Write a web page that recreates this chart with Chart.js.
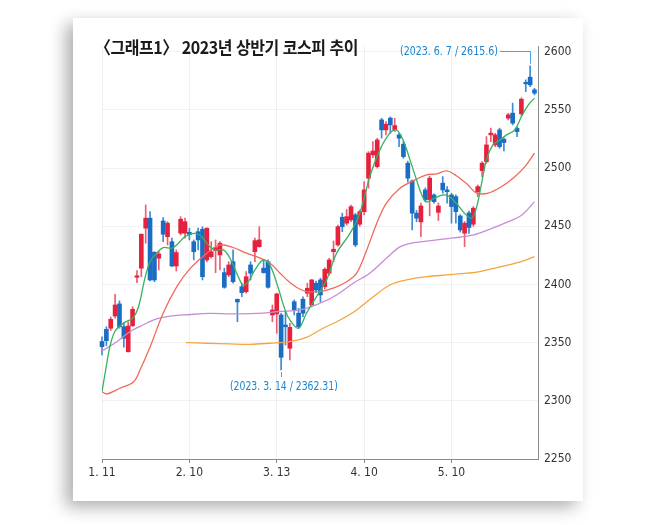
<!DOCTYPE html>
<html lang="ko">
<head>
<meta charset="UTF-8">
<title>2023년 상반기 코스피 추이</title>
<script src="https://cdn.jsdelivr.net/npm/chart.js"></script>
<style>
    html, body {
        margin: 0;
        padding: 0;
        background: #fff;
        width: 650px;
        height: 525px;
        overflow: hidden;
    }
    .card {
        position: absolute;
        left: 73px;
        top: 18px;
        width: 510px;
        height: 483px;
        background: #fff;
        box-shadow: -7px 6px 16px rgba(0, 0, 0, 0.32);
    }
    #wrap {
        position: absolute;
        left: 0;
        top: 0;
        width: 650px;
        height: 525px;
    }
    .title {
        position: absolute;
        left: 95px;
        top: 36px;
        font-family: "Noto Sans CJK KR", "Noto Sans", sans-serif;
        font-weight: 700;
        font-size: 17.5px;
        line-height: 22px;
        color: #1a1a1a;
        white-space: nowrap;
        transform-origin: left center;
        letter-spacing: -0.5px;
    }
    .note {
        position: absolute;
        font-family: "Liberation Sans Narrow", "DejaVu Sans Condensed", Roboto, sans-serif;
        font-size: 13px;
        line-height: 14px;
        color: #1784d3;
        white-space: nowrap;
    }
    #noteTop {
        left: 400px;
        top: 44px;
        transform-origin: left center;
    }
    #noteLow {
        left: 284px;
        top: 379px;
        transform-origin: center center;
    }
</style>
</head>
<body>
<div class="card"></div>
<div id="wrap"><canvas id="kospiChart" width="650" height="525"></canvas></div>
<div class="title" id="title">〈그래프1〉 2023년 상반기 코스피 추이</div>
<div class="note" id="noteTop">(2023. 6. 7 / 2615.6)</div>
<div class="note" id="noteLow">(2023. 3. 14 / 2362.31)</div>

<script>
    // daily candles, one per trading day starting 1. 11 (index 0)
    const open = [2351, 2361.5, 2362.4, 2372.9, 2383.3, 2363.7, 2342.2, 2364.6, 2406.2, 2414,
        2448.4, 2457, 2427.7, 2422.6, 2454.6, 2441.1, 2436.8, 2415.9, 2444.1, 2444.1,
        2444.9, 2436.8, 2445.4, 2447.5, 2421.1, 2423.9, 2429.1, 2425.4, 2410.2, 2408.2,
        2419.6, 2387.3, 2398.1, 2393.8, 2416.8, 2428.2, 2432.5, 2414, 2419.6, 2373.8,
        2374.7, 2373.8, 2365.2, 2345.2, 2385.2, 2375.3, 2387.3, 2392.5, 2382.4, 2401.1,
        2403.9, 2398.1, 2409.7, 2428.2, 2434, 2457.8, 2452.7, 2455.5, 2459.8, 2451.8,
        2462.6, 2491.4, 2511.4, 2501.3, 2541.5, 2532.9, 2543, 2532.9, 2528.6, 2520.6,
        2504.3, 2489, 2461.3, 2453.8, 2481.3, 2473, 2477, 2462, 2487.1, 2481.3,
        2477, 2475.5, 2458.9, 2444.1, 2461.5, 2451.8, 2479.8, 2497.9, 2505.6, 2528.6,
        2520, 2532.9, 2524.9, 2543, 2547.3, 2534.4, 2546.7, 2573.6, 2578.2, 2567.3];
    const high = [2355, 2363.7, 2372, 2391.6, 2385.9, 2366.9, 2367.9, 2380.9, 2411.9, 2443.5,
        2468.4, 2462.6, 2428.2, 2428.2, 2457.5, 2454, 2439.8, 2429.7, 2458.3, 2457,
        2448.4, 2438.3, 2448.4, 2449.7, 2448.8, 2436.8, 2438.3, 2436.8, 2414, 2419.6,
        2429.7, 2387.5, 2401.1, 2411, 2419.6, 2439.8, 2449.7, 2421.1, 2421.1, 2382.4,
        2392.5, 2375.3, 2377.2, 2366.7, 2386.7, 2379.6, 2389.5, 2401.1, 2404.5, 2403,
        2405.4, 2414.4, 2422.5, 2437.4, 2451, 2461.3, 2464.5, 2468.3, 2461.2, 2464,
        2488.4, 2514.2, 2522.8, 2525.7, 2542.9, 2540, 2544.1, 2542.9, 2530, 2522.8,
        2506, 2489.9, 2463.6, 2470, 2483, 2493, 2478, 2470, 2492.7, 2484.2,
        2478.5, 2477, 2460, 2454.1, 2463, 2467, 2485.6, 2505.7, 2527.1, 2534.4,
        2530, 2534.4, 2526, 2547.2, 2555.9, 2535.7, 2560.5, 2575.9, 2588, 2568.7];
    const low = [2339.5, 2347.5, 2360.5, 2371, 2362.4, 2346.1, 2341.9, 2363.8, 2401.6, 2406.7,
        2435.5, 2403, 2402.4, 2412.5, 2436.8, 2434, 2415.3, 2411.6, 2442.6, 2439.8,
        2438.3, 2421.1, 2429.7, 2403.9, 2419.4, 2422.6, 2410.2, 2412.5, 2396.8, 2406.7,
        2401.1, 2368, 2389.5, 2392.5, 2403.9, 2419.6, 2432, 2409.7, 2396.8, 2368,
        2358.1, 2326.5, 2348, 2335.1, 2373.8, 2362.4, 2372.3, 2389.5, 2380.9, 2393,
        2385.2, 2396, 2408, 2419.6, 2433, 2445.4, 2451, 2454, 2432.5, 2450,
        2459.8, 2482.8, 2509, 2500, 2525.8, 2528.6, 2530, 2531.5, 2518.5, 2508.5,
        2488, 2446.9, 2454, 2441, 2471, 2459, 2470, 2455, 2478.5, 2469.9,
        2452.7, 2452.7, 2445, 2432.5, 2444, 2450, 2475.5, 2492.7, 2504.3, 2522.8,
        2518.5, 2517, 2514.8, 2541.5, 2537.2, 2527.1, 2545, 2565.8, 2570, 2563];
    const close = [2346.5, 2351.7, 2370.1, 2382.4, 2363.7, 2353.8, 2364.3, 2378.7, 2407.3, 2443.2,
        2457, 2403.9, 2403.9, 2426.3, 2443.2, 2452.7, 2415.9, 2427.5, 2456.1, 2454,
        2443, 2428.2, 2438.3, 2406.7, 2448.4, 2428.2, 2431.7, 2435.5, 2397.6, 2416.8,
        2402.4, 2385, 2393, 2406.7, 2409.7, 2437.7, 2438.3, 2410.2, 2397.6, 2378.1,
        2391.9, 2337.4, 2363.7, 2363.2, 2378.1, 2363.7, 2375.3, 2396.8, 2403.9, 2395.3,
        2391, 2413.1, 2421.1, 2430.3, 2449.7, 2449.7, 2458.3, 2466.9, 2434, 2462.6,
        2481.3, 2512.9, 2514.8, 2524.3, 2532.9, 2537.8, 2537.2, 2536.6, 2525.8, 2509.9,
        2491.4, 2461.3, 2457, 2467.5, 2472.7, 2491.4, 2471.2, 2467.5, 2481.3, 2479.8,
        2467, 2462.6, 2446.9, 2452.7, 2449, 2465.6, 2484.1, 2504.3, 2520, 2530.1,
        2528.6, 2518.5, 2522, 2545.8, 2538.7, 2531.4, 2559.3, 2572.5, 2571.6, 2564.5];

    // moving averages (x = trading-day index)
    const ma5X = [0, 1.1, 1.8, 3, 5, 7, 8.3, 9.8, 11, 12.5, 14, 16, 17.5, 19, 21.3, 22.8, 24.3, 25.9, 27.8, 29.3,
        31.2, 32.3, 33.5, 35, 36.9, 38.4, 40, 41.9, 43, 45, 46.8, 49.1, 51.4, 53.7, 56.8, 59, 61.3, 63.6, 65.9, 67.4,
        68.9, 70.5, 72, 73.2, 74.3, 75.8, 78.1, 79.6, 81.2, 83.1, 84.6, 85.7, 86.9, 88, 89.5, 91.1, 92.6, 94.5, 96, 97.6, 99];
    const ma5Y = [2307.8, 2332.3, 2346.5, 2360, 2367, 2371, 2380, 2405, 2419.6, 2426.9, 2431.7, 2431.2, 2435.5, 2441.1, 2444, 2441.1, 2434, 2429.7, 2429.7, 2422.6,
        2406.7, 2399.6, 2402.4, 2412.5, 2421.1, 2416.8, 2401.1, 2378.1, 2369.5, 2362.4, 2375.3, 2389.5, 2403.9, 2426.9, 2444.1, 2461.3, 2492.7, 2515.7, 2530.1, 2532.9,
        2524.3, 2507.1, 2489.9, 2477, 2471, 2473.6, 2477, 2475.3, 2469.3, 2460.7, 2457, 2465.8, 2487.1, 2507.1, 2520, 2524.3, 2528.6, 2532.9, 2544.3, 2554.4, 2560.2];
    const ma20X = [0, 1.1, 4.1, 7.2, 8.7, 11, 14, 17.1, 20.1, 24, 27, 30, 33.1, 36.2, 38.4, 40.7, 43, 44.9, 46.8, 49.9,
        52.9, 56, 58.3, 60.6, 62.9, 65.1, 68.2, 71.2, 74.3, 76.6, 78.9, 81.2, 83.5, 85.7, 88.4, 91.5, 94.5, 96.8, 99];
    const ma20Y = [2307.8, 2305.9, 2310.8, 2316.2, 2326.5, 2346.3, 2375.3, 2397.9, 2413.4, 2426.9, 2434, 2431.8, 2426.9, 2422.6, 2418.5, 2409.9, 2401.7, 2396.8, 2393.8, 2393.8,
        2396.8, 2402.4, 2409.7, 2429.7, 2452.7, 2469.9, 2482.8, 2489, 2494.2, 2495.1, 2497.6, 2493.3, 2486.5, 2478.7, 2478.5, 2484.2, 2492.7, 2501.3, 2512.9];
    const ma60X = [0, 3.4, 6.3, 9.4, 12.5, 15.6, 20.1, 24.7, 29.7, 35.4, 40.6, 45.3, 49.9, 53.7, 57.5, 61.3, 65.1, 68.2, 71.2, 75.8,
        80.4, 85.1, 88.4, 92.2, 96.1, 99];
    const ma60Y = [2342.8, 2350.8, 2359.2, 2365.2, 2370.4, 2372.9, 2374.2, 2375.1, 2374.7, 2375.1, 2376.8, 2378.1, 2383.9, 2391, 2401.1, 2409.7, 2422.6, 2432.3, 2435.7, 2437.9,
        2440, 2442.6, 2446.9, 2452.7, 2459.8, 2471.2];
    const ma120X = [19.2, 24, 29.3, 33.9, 38.4, 43, 46.8, 50.6, 54.5, 58.3, 62.1, 65.9, 69.7, 74.3, 78.9, 83.5, 86.5, 91.1, 95.7, 99];
    const ma120Y = [2350, 2349.5, 2348.9, 2348.6, 2349.5, 2350.8, 2354.5, 2362.4, 2369.5, 2378.1, 2389.5, 2399.6, 2403.9, 2406.7, 2408.2, 2409.7, 2411.1, 2415.1, 2419.4, 2423.9];

    // axis ticks
    const xTickPos = [0, 20, 40, 60, 80];
    const xTickLabels = ['1. 11', '2. 10', '3. 13', '4. 10', '5. 10'];
    const yTicks = [2250, 2300, 2350, 2400, 2450, 2500, 2550, 2600];

    // marked days: peak (6. 7) and low (3. 14)
    const peakDay = 98;
    const lowDay = 41;

    const UP = '#e5213e';
    const DOWN = '#1b6dc4';
    const UP_WICK = '#ee5d73';
    const DOWN_WICK = '#3d8bd6';
    const tickFont = { family: '"Liberation Sans Narrow", "DejaVu Sans Condensed", Roboto, sans-serif', size: 12 };

    const days = close.map((c, i) => i);
    const isUp = days.map(i => close[i] >= open[i]);

    const toPoints = (xs, ys) => xs.map((x, k) => ({ x: x, y: ys[k] }));
    const maLine = (xs, ys, color) => ({
        type: 'line',
        data: toPoints(xs, ys),
        borderColor: color,
        borderWidth: 1.3,
        pointRadius: 0,
        tension: 0.35,
        fill: false,
        order: 0
    });

    // leader lines from the two notes to their candles
    const notesPlugin = {
        id: 'notes',
        afterDatasetsDraw(chart) {
            const c = chart.ctx;
            const xs = chart.scales.x;
            const ys = chart.scales.y;
            c.save();
            c.strokeStyle = '#4aa3e2';
            c.lineWidth = 1;
            const px = Math.round(xs.getPixelForValue(peakDay)) + 0.5;
            const py = ys.getPixelForValue(high[peakDay]);
            c.beginPath();
            c.moveTo(500, 51.5);
            c.lineTo(px, 51.5);
            c.lineTo(px, py - 2);
            c.stroke();
            const lx = Math.round(xs.getPixelForValue(lowDay)) + 0.5;
            const ly = ys.getPixelForValue(low[lowDay]);
            c.beginPath();
            c.moveTo(lx, ly + 2);
            c.lineTo(lx, 377);
            c.stroke();
            c.restore();
        }
    };

    const ctx = document.getElementById('kospiChart').getContext('2d');
    const kospiChart = new Chart(ctx, {
        type: 'bar',
        data: {
            datasets: [
                maLine(ma5X, ma5Y, '#35b35e'),
                maLine(ma20X, ma20Y, '#f2695a'),
                maLine(ma60X, ma60Y, '#c48fd2'),
                maLine(ma120X, ma120Y, '#f6a43e'),
                {
                    // candle bodies
                    type: 'bar',
                    data: days.map(i => ({ x: i, y: [open[i], close[i]] })),
                    backgroundColor: days.map(i => isUp[i] ? UP : DOWN),
                    barThickness: 4,
                    minBarLength: 1.5,
                    grouped: false,
                    clip: false,
                    order: 1
                },
                {
                    // wicks
                    type: 'bar',
                    data: days.map(i => ({ x: i, y: [low[i], high[i]] })),
                    backgroundColor: days.map(i => isUp[i] ? UP_WICK : DOWN_WICK),
                    barThickness: 1,
                    grouped: false,
                    clip: false,
                    order: 2
                }
            ]
        },
        options: {
            responsive: false,
            animation: false,
            events: [],
            layout: { padding: { left: 102, top: 46, right: 0, bottom: 0 } },
            plugins: {
                legend: { display: false },
                tooltip: { enabled: false }
            },
            scales: {
                x: {
                    type: 'linear',
                    position: 'bottom',
                    offset: false,
                    min: 0,
                    max: 99.8,
                    afterFit: s => { s.height = 66; },
                    afterBuildTicks: s => { s.ticks = xTickPos.map(v => ({ value: v })); },
                    ticks: {
                        font: tickFont,
                        color: '#333',
                        padding: 3,
                        maxRotation: 0,
                        autoSkip: false,
                        callback: v => xTickLabels[xTickPos.indexOf(v)]
                    },
                    grid: {
                        offset: false,
                        color: 'rgba(0,0,0,0.06)',
                        tickColor: '#8a8a8a',
                        tickLength: 4
                    },
                    border: { color: '#8a8a8a' }
                },
                y: {
                    type: 'linear',
                    position: 'right',
                    min: 2250,
                    max: 2605,
                    afterFit: s => { s.width = 112; },
                    afterBuildTicks: s => { s.ticks = yTicks.map(v => ({ value: v })); },
                    ticks: {
                        font: tickFont,
                        color: '#333',
                        padding: 6,
                        callback: v => String(v)
                    },
                    grid: {
                        color: 'rgba(0,0,0,0.05)',
                        drawTicks: false
                    },
                    border: { color: '#8a8a8a' }
                }
            }
        },
        plugins: [notesPlugin]
    });

    // squeeze the texts to the narrow widths of the printed graphic
    function fitWidth(id, target) {
        const el = document.getElementById(id);
        const w = el.offsetWidth;
        if (id === 'noteLow') {
            el.style.left = (284 - w / 2) + 'px';
        }
        el.style.transform = 'scaleX(' + (target / w).toFixed(3) + ')';
    }
    fitWidth('title', 263);
    fitWidth('noteTop', 98);
    fitWidth('noteLow', 108);
</script>
</body>
</html>
